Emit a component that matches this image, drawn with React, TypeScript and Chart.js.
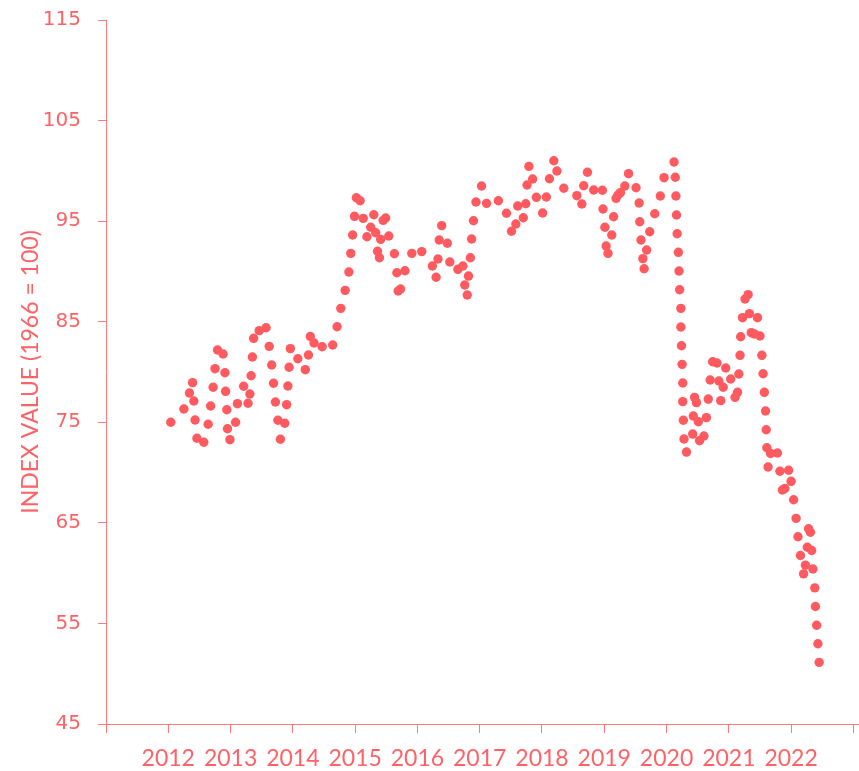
import React, { useEffect, useRef } from "react";
import { Chart, registerables } from "chart.js";

Chart.register(...registerables);

// Decimal-year dates of each observation
const dates: number[] = [
  2012.04, 2012.25, 2012.34, 2012.39, 2012.41, 2012.43, 2012.46, 2012.57, 2012.64, 2012.68,
  2012.72, 2012.75, 2012.79, 2012.88, 2012.91, 2012.92, 2012.94, 2012.95, 2012.99, 2013.08,
  2013.11, 2013.21, 2013.28, 2013.31, 2013.33, 2013.35, 2013.37, 2013.46, 2013.57, 2013.62,
  2013.66, 2013.69, 2013.72, 2013.76, 2013.80, 2013.87, 2013.90, 2013.92, 2013.94, 2013.96,
  2014.08, 2014.20, 2014.25, 2014.28, 2014.34, 2014.47, 2014.64, 2014.71, 2014.77, 2014.84,
  2014.90, 2014.93, 2014.96, 2014.99, 2015.02, 2015.08, 2015.13, 2015.19, 2015.25, 2015.30,
  2015.33, 2015.36, 2015.39, 2015.41, 2015.45, 2015.49, 2015.54, 2015.63, 2015.67, 2015.69,
  2015.73, 2015.80, 2015.91,
  2016.07, 2016.24, 2016.30, 2016.33, 2016.35, 2016.39, 2016.48, 2016.52, 2016.65, 2016.73,
  2016.76, 2016.80, 2016.82, 2016.85, 2016.87, 2016.90, 2016.94, 2017.03, 2017.11, 2017.30,
  2017.43, 2017.51, 2017.58, 2017.61, 2017.70, 2017.74, 2017.76, 2017.79, 2017.85, 2017.91,
  2018.01, 2018.07, 2018.12, 2018.19, 2018.24,
  2018.35, 2018.56, 2018.64, 2018.67, 2018.73, 2018.83, 2018.97, 2018.98, 2019.01, 2019.03,
  2019.06, 2019.12, 2019.15, 2019.19, 2019.22, 2019.26, 2019.33, 2019.39, 2019.51, 2019.56,
  2019.57, 2019.59, 2019.62, 2019.64, 2019.68, 2019.73, 2019.81, 2019.90, 2019.96,
  2020.12, 2020.14, 2020.15, 2020.16, 2020.17, 2020.19, 2020.20, 2020.21, 2020.23, 2020.23,
  2020.24, 2020.25, 2020.26, 2020.26, 2020.27, 2020.28, 2020.32,
  2020.42, 2020.43, 2020.45, 2020.48, 2020.51, 2020.53, 2020.60, 2020.64, 2020.67, 2020.70,
  2020.74, 2020.81, 2020.84, 2020.87, 2020.91, 2020.95,
  2021.03, 2021.10, 2021.14, 2021.16, 2021.18, 2021.19, 2021.22, 2021.26, 2021.31, 2021.33,
  2021.36, 2021.41, 2021.46, 2021.50, 2021.53, 2021.55, 2021.57, 2021.59, 2021.60, 2021.61,
  2021.63, 2021.67, 2021.78, 2021.82, 2021.86, 2021.90, 2021.96,
  2022.00, 2022.04, 2022.08, 2022.11, 2022.15, 2022.20, 2022.23, 2022.26, 2022.28, 2022.31,
  2022.33, 2022.35, 2022.38, 2022.39, 2022.41, 2022.43, 2022.45,
];

// Index value (1966 = 100)
const indexValues: number[] = [
  75.0, 76.32, 77.91, 78.94, 77.12, 75.23, 73.41, 73.01, 74.8, 76.62,
  78.48, 80.33, 82.19, 81.79, 79.93, 78.08, 76.25, 74.36, 73.27, 75.0,
  76.85, 78.58, 76.89, 77.81, 79.63, 81.49, 83.35, 84.11, 84.4, 82.55,
  80.7, 78.88, 77.02, 75.2, 73.31, 74.9, 76.75, 78.61, 80.47, 82.32,
  81.32, 80.23, 81.69, 83.53, 82.88, 82.51, 82.68, 84.5, 86.33, 88.12,
  89.94, 91.8, 93.62, 95.48, 97.33, 97.03, 95.28, 93.45, 94.39, 95.64,
  93.85, 92.0, 91.36, 93.19, 95.08, 95.31, 93.52, 91.76, 89.87, 88.05,
  88.25, 90.07, 91.8,
  91.97, 90.54, 89.42, 91.24, 93.12, 94.55, 92.8, 90.94, 90.21, 90.54,
  88.65, 87.66, 89.54, 91.36, 93.22, 95.04, 96.9, 98.49, 96.77, 97.03,
  95.78, 93.99, 94.72, 96.51, 95.34, 96.73, 98.59, 100.45, 99.19, 97.37,
  95.81, 97.4, 99.22, 101.01, 99.99,
  98.27, 97.53, 96.7, 98.52, 99.86, 98.1, 98.07, 96.21, 94.39, 92.53,
  91.8, 93.62, 95.44, 97.27, 97.6, 97.83, 98.49, 99.72, 98.32, 96.8,
  94.94, 93.12, 91.27, 90.27, 92.13, 93.95, 95.74, 97.5, 99.32,
  100.88, 99.36, 97.5, 95.61, 93.75, 91.9, 90.04, 88.18, 86.33, 84.47,
  82.61, 80.76, 78.91, 77.05, 75.2, 73.34, 72.04,
  73.83, 75.62, 77.48, 76.95, 75.06, 73.17, 73.64, 75.46, 77.31, 79.2,
  81.02, 80.89, 79.1, 77.15, 78.48, 80.4,
  79.3, 77.48, 77.98, 79.8, 81.66, 83.51, 85.4, 87.26, 87.69, 85.8,
  83.91, 83.78, 85.4, 83.58, 81.66, 79.83, 77.98, 76.12, 74.26, 72.47,
  70.55, 71.9, 71.95, 70.13, 68.27, 68.42, 70.23,
  69.13, 67.3, 65.45, 63.62, 61.75, 59.93, 60.79, 62.57, 64.41, 64.07,
  62.25, 60.41, 58.54, 56.68, 54.82, 52.98, 51.13,
];

// Axis ticks
const yearTicks: number[] = [2011, 2012, 2013, 2014, 2015, 2016, 2017, 2018, 2019, 2020, 2021, 2022, 2023];
const yearLabels: string[] = ["2012", "2013", "2014", "2015", "2016", "2017", "2018", "2019", "2020", "2021", "2022"];
const yTicks: number[] = [45, 55, 65, 75, 85, 95, 105, 115];
const yTitle = "INDEX VALUE (1966 = 100)";

const RED = "#ff5a5f";
const TEXT = "#ff6266";
const AXIS = "#ff7a7d";

export default function App() {
  const ref = useRef<HTMLCanvasElement | null>(null);

  useEffect(() => {
    if (!ref.current) return;
    const n = Math.min(dates.length, indexValues.length);
    const pts = [];
    for (let i = 0; i < n; i++) pts.push({ x: dates[i], y: indexValues[i] });

    const chart = new Chart(ref.current, {
      type: "scatter",
      data: {
        datasets: [
          {
            data: pts,
            backgroundColor: RED,
            borderWidth: 0,
            pointRadius: 4.7,
            pointHoverRadius: 4.7,
            clip: false,
          },
        ],
      },
      options: {
        animation: false,
        responsive: false,
        layout: { autoPadding: false, padding: { top: 20, right: 0, bottom: 0, left: 0 } },
        plugins: { legend: { display: false }, tooltip: { enabled: false } },
        scales: {
          x: {
            type: "linear",
            min: 2011,
            max: 2023.09,
            afterBuildTicks: (scale: any) => {
              scale.ticks = yearTicks.map((v) => ({ value: v }));
            },
            afterFit: (scale: any) => {
              scale.height = 47;
              scale.paddingLeft = 0;
              scale.paddingRight = 0;
            },
            grid: {
              drawOnChartArea: false,
              drawTicks: true,
              tickLength: 9,
              color: AXIS,
            },
            border: { display: true, color: AXIS, width: 1 },
            ticks: {
              autoSkip: false,
              maxRotation: 0,
              padding: 12,
              color: TEXT,
              font: { family: "Lato", size: 23 },
              callback: (v: any) => {
                const s = String(v);
                return yearLabels.includes(s) ? s : "";
              },
            },
          },
          y: {
            min: 45,
            max: 115,
            afterBuildTicks: (scale: any) => {
              scale.ticks = yTicks.map((v) => ({ value: v }));
            },
            afterFit: (scale: any) => {
              scale.width = 106;
              scale.paddingTop = 0;
              scale.paddingBottom = 0;
            },
            grid: {
              drawOnChartArea: false,
              drawTicks: true,
              tickLength: 8,
              color: AXIS,
            },
            border: { display: true, color: AXIS, width: 1 },
            ticks: {
              padding: 17,
              color: TEXT,
              font: { family: "DejaVu Sans", size: 20 },
            },
            title: {
              display: true,
              text: yTitle,
              color: TEXT,
              font: { family: "Lato", size: 23 },
              padding: { top: 17, bottom: 0 },
            },
          },
        },
      },
    });
    return () => chart.destroy();
  }, []);

  return (
    <div style={{ position: "absolute", left: 0, top: 0, width: 859, height: 771, background: "#fff" }}>
      <canvas ref={ref} width={859} height={771} style={{ display: "block" }} />
    </div>
  );
}
